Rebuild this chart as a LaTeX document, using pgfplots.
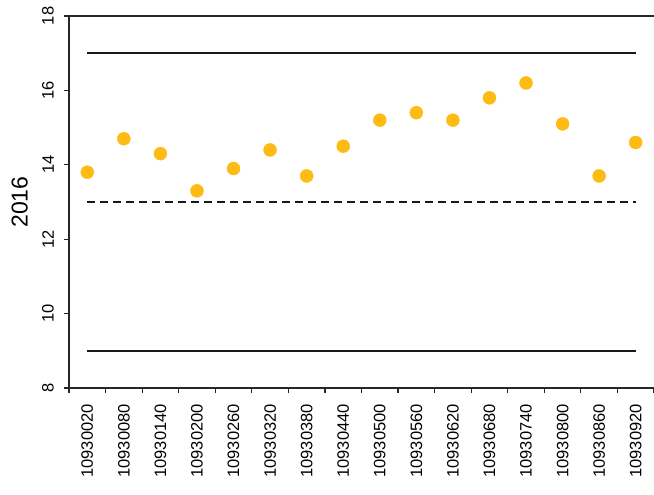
\documentclass[border=0pt]{standalone}
\usepackage{pgfplots}
\pgfplotsset{compat=1.18}
\usepackage{fontspec}
\setmainfont{Liberation Sans}
\definecolor{dotc}{RGB}{253,187,19}
\begin{document}
\begin{tikzpicture}
\begin{axis}[
  name=ax,
  scale only axis,
  width=585bp, height=372bp,
  xmin=-0.5, xmax=15.5,
  ymin=8, ymax=18,
  clip=false,
  axis x line*=bottom,
  axis y line*=left,
  axis line style={line width=1.6bp, black!85},
  every tick/.style={line width=1.2bp, black!85},
  tick align=outside,
  major tick length=5bp,
  minor tick length=5bp,
  ytick={8,10,...,18},
  xtick={0,...,15},
  major x tick style={draw=none},
  minor xtick={-0.5,0.5,...,15.5},
  xticklabels={10930020,10930080,10930140,10930200,10930260,10930320,10930380,10930440,10930500,10930560,10930620,10930680,10930740,10930800,10930860,10930920},
  xticklabel style={rotate=90, anchor=east, font=\fontsize{16.5bp}{18bp}\selectfont, inner sep=0pt, xshift=-11bp},
  yticklabel style={rotate=90, anchor=south, font=\fontsize{16.5bp}{18bp}\selectfont, inner sep=0pt, yshift=10bp},
  ylabel={2016},
  ylabel style={font=\fontsize{23bp}{25bp}\selectfont, at={(axis description cs:0,0.5)}, anchor=south, yshift=41bp, inner sep=0pt},
  /pgf/number format/assume math mode=true,
]
\addplot[line width=1.6bp, black!85, forget plot] coordinates {(-0.5,18) (15.5,18)};
\addplot[line width=2bp, black!90] coordinates {(0,17) (15,17)};
\addplot[line width=2bp, black!90, dashed, dash pattern=on 8bp off 5bp] coordinates {(0,13) (15,13)};
\addplot[line width=2bp, black!90] coordinates {(0,9) (15,9)};
\addplot[only marks, mark=*, mark size=6.5bp, color=dotc, mark options={draw=dotc, fill=dotc}] coordinates {
(0,13.8) (1,14.7) (2,14.3) (3,13.3) (4,13.9) (5,14.4) (6,13.7) (7,14.5)
(8,15.2) (9,15.4) (10,15.2) (11,15.8) (12,16.2) (13,15.1) (14,13.7) (15,14.6)
};
\end{axis}
\pgfresetboundingbox
\path[use as bounding box] ([shift={(-69bp,-107bp)}]ax.south west) rectangle ([shift={(0bp,16bp)}]ax.north east);
\end{tikzpicture}
\end{document}
